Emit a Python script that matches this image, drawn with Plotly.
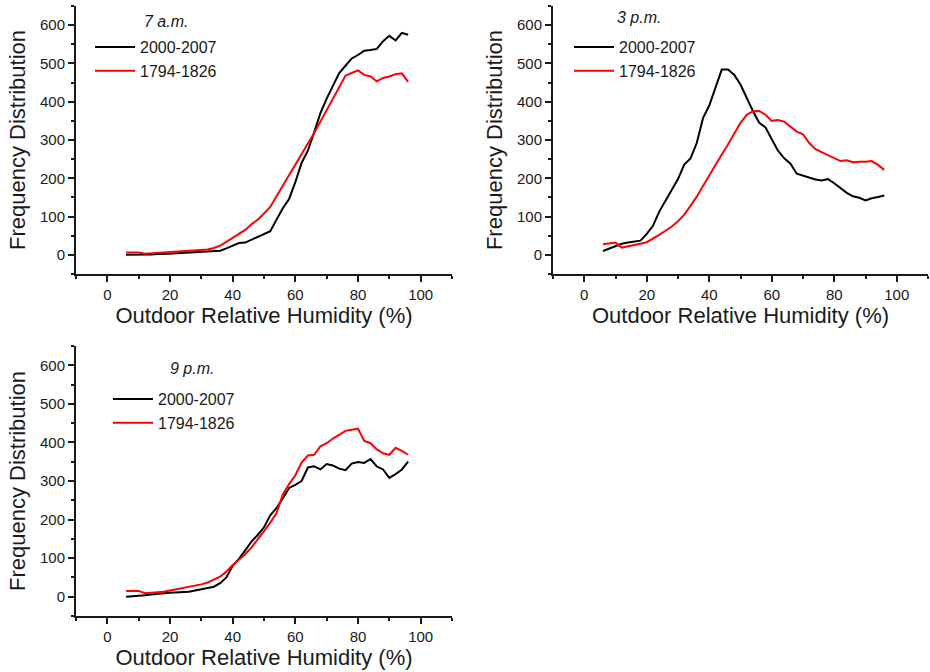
import plotly.graph_objects as go

rh = list(range(6, 97, 2))

am7_modern = [0, 0, 0, 1, 1, 2, 2, 3, 4, 5, 6, 7, 8, 9, 10, 11, 17, 24, 31, 32, 39, 47, 54, 62,
              92, 122, 146, 190, 240, 272, 320, 370, 408, 440, 475, 494, 513, 522, 533, 535,
              538, 558, 572, 560, 580, 575]
am7_hist = [6, 6, 6, 3, 4, 5, 6, 7, 8, 9, 10, 12, 13, 14, 18, 24, 34, 44, 55, 65, 80, 92, 108, 125,
            153, 180, 210, 235, 262, 288, 318, 348, 379, 408, 438, 468, 475, 482, 470, 466,
            453, 462, 466, 472, 474, 452]
pm3_modern = [10, 16, 24, 29, 32, 35, 37, 55, 76, 113, 142, 168, 198, 236, 252, 292, 357, 390,
              438, 484, 484, 470, 445, 410, 375, 345, 333, 302, 272, 252, 238, 212, 207, 202,
              197, 194, 198, 187, 175, 162, 153, 149, 142, 148, 151, 155]
pm3_hist = [28, 29, 32, 19, 22, 25, 29, 33, 42, 52, 63, 74, 88, 105, 128, 152, 180, 208, 236, 262,
            288, 318, 345, 366, 375, 376, 366, 350, 352, 348, 335, 322, 315, 292, 276, 268,
            260, 254, 245, 247, 242, 243, 243, 245, 235, 222]
pm9_modern = [0, 1, 2, 4, 6, 8, 9, 10, 11, 12, 13, 16, 19, 22, 26, 35, 50, 80, 98, 120, 143, 160,
              180, 211, 230, 255, 282, 290, 300, 335, 338, 330, 344, 340, 332, 328, 345, 349,
              347, 357, 338, 330, 308, 318, 330, 350]
pm9_hist = [15, 15, 15, 9, 10, 11, 13, 16, 19, 22, 25, 29, 32, 37, 44, 52, 65, 82, 96, 110, 128,
            148, 170, 192, 217, 265, 292, 315, 348, 366, 368, 390, 398, 410, 420, 430, 433, 436,
            404, 398, 382, 372, 368, 386, 378, 368]

panel_labels = ["7 a.m.", "3 p.m.", "9 p.m."]
series_names = ["2000-2007", "1794-1826"]
x_title = "Outdoor Relative Humidity (%)"
y_title = "Frequency Distribution"

W, H = 930, 672
FONT = "Liberation Sans, Arial, sans-serif"
TXT = "#1a1a1a"

# pixel boxes: (x0, x1, ytop, ybottom)
boxes = [(76, 452, 6, 274), (553, 928, 6, 274), (76, 452, 346, 616)]
legend_pos = [(90, 30), (569, 30), (108, 382)]
label_pos = [(166, 22), (639, 17), (192, 368)]

data = [(am7_modern, am7_hist), (pm3_modern, pm3_hist), (pm9_modern, pm9_hist)]

fig = go.Figure()
colors = ["#000000", "#ff0000"]
for i, (mod, hist) in enumerate(data):
    sfx = "" if i == 0 else str(i + 1)
    leg = "legend" if i == 0 else "legend" + str(i + 1)
    for name, vals, c in zip(series_names, (mod, hist), colors):
        fig.add_trace(go.Scatter(x=rh, y=vals, mode="lines", name=name,
                                 line=dict(color=c, width=2),
                                 xaxis="x" + sfx, yaxis="y" + sfx, legend=leg))

layout = dict(width=W, height=H, margin=dict(l=0, r=0, t=0, b=0),
              paper_bgcolor="white", plot_bgcolor="white",
              font=dict(family=FONT, color=TXT))
tickfont = dict(family=FONT, size=15, color=TXT)
for i, (x0, x1, yt, yb) in enumerate(boxes):
    sfx = "" if i == 0 else str(i + 1)
    layout["xaxis" + sfx] = dict(
        domain=[x0 / W, x1 / W], range=[-10, 110], anchor="y" + sfx,
        tickmode="linear", tick0=0, dtick=20, ticks="outside", ticklen=6, tickwidth=2,
        tickcolor=TXT, showline=True, linewidth=2, linecolor=TXT, showgrid=False,
        zeroline=False, tickfont=tickfont,
        minor=dict(dtick=10, tick0=0, ticks="outside", ticklen=3, tickwidth=2, tickcolor=TXT),
        title=dict(text=x_title, font=dict(family=FONT, size=22, color=TXT), standoff=1))
    layout["yaxis" + sfx] = dict(
        domain=[1 - yb / H, 1 - yt / H], range=[-50, 650], anchor="x" + sfx,
        tickmode="linear", tick0=0, dtick=100, ticks="outside", ticklen=6, tickwidth=2,
        tickcolor=TXT, showline=True, linewidth=2, linecolor=TXT, showgrid=False,
        zeroline=False, tickfont=tickfont,
        minor=dict(dtick=50, tick0=0, ticks="outside", ticklen=3, tickwidth=2, tickcolor=TXT),
        title=dict(text=y_title, font=dict(family=FONT, size=22, color=TXT), standoff=8))
    leg = "legend" if i == 0 else "legend" + str(i + 1)
    lx, ly = legend_pos[i]
    layout[leg] = dict(x=lx / W, y=1 - ly / H, xref="paper", yref="paper",
                       xanchor="left", yanchor="top", bgcolor="rgba(0,0,0,0)",
                       borderwidth=0, font=dict(family=FONT, size=16, color=TXT),
                       itemwidth=40, tracegroupgap=0)

annotations = []
for (ax, ay), lab in zip(label_pos, panel_labels):
    annotations.append(dict(x=ax / W, y=1 - ay / H, xref="paper", yref="paper",
                            text=lab, showarrow=False, xanchor="center", yanchor="middle",
                            font=dict(family=FONT, size=16, color=TXT, style="italic")))
layout["annotations"] = annotations
fig.update_layout(**layout)
fig.write_html("out.html")
